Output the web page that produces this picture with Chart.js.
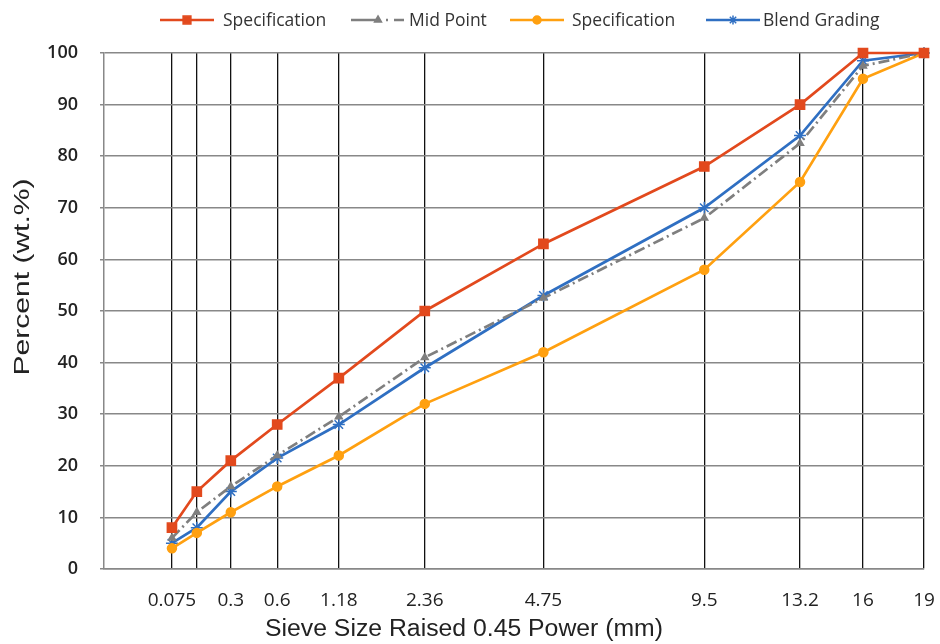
<!DOCTYPE html>
<html>
<head>
<meta charset="utf-8">
<script src="https://cdn.jsdelivr.net/npm/chart.js@4"></script>
<style>
  html, body { margin: 0; padding: 0; background: #fff; }
  #wrap { width: 940px; height: 644px; position: relative; }
</style>
</head>
<body>
<div id="wrap"><canvas id="gradChart"></canvas></div>
<script>
// sieve sizes (mm), plotted at size^0.45
const sieves = [0.075, 0.15, 0.3, 0.6, 1.18, 2.36, 4.75, 9.5, 13.2, 16, 19];
const sieveLabels = ['0.075', '', '0.3', '0.6', '1.18', '2.36', '4.75', '9.5', '13.2', '16', '19'];

const specUpper = [8, 15, 21, 28, 37, 50, 63, 78, 90, 100, 100];
const midPoint  = [6, 11, 16, 22, 29.5, 41, 52.5, 68, 82.5, 97.5, 100];
const specLower = [4, 7, 11, 16, 22, 32, 42, 58, 75, 95, 100];
const blend     = [5, 8, 15, 21.5, 28, 39, 53, 70, 84, 98.5, 100];

const yTicks = [0, 10, 20, 30, 40, 50, 60, 70, 80, 90, 100];

const POW = 0.45;
const xs = sieves.map(s => Math.pow(s, POW));
const pts = vals => vals.map((v, i) => ({ x: xs[i], y: v }));

const RED = '#E2491D', GRAY = '#7F7F7F', ORANGE = '#FFA010', BLUE = '#2F6FC2';
const MID_DASH = [11, 4, 2, 4];

function series(label, vals, color, pointStyle, extra){
  return Object.assign({
    label, data: pts(vals),
    borderColor: color, backgroundColor: color,
    pointBorderColor: color, pointBackgroundColor: color,
    borderWidth: 2.7, pointStyle, pointRadius: 4.5, pointBorderWidth: 1.5,
    tension: 0, clip: false
  }, extra || {});
}

// text squeezed/stretched to the width it has in the original
function stretchText(ctx, text, cx, cy, len, font, rot){
  ctx.save();
  ctx.font = font;
  const w = ctx.measureText(text).width;
  ctx.translate(cx, cy);
  if(rot) ctx.rotate(rot);
  ctx.scale(len / w, 1);
  ctx.textAlign = 'center';
  ctx.textBaseline = 'middle';
  ctx.fillText(text, 0, 0);
  ctx.restore();
}

// legend (line + marker) and axis titles
const extras = {
  id: 'extras',
  afterDraw(chart){
    const ctx = chart.ctx;
    const items = [
      { x: 160, tx: 223, ds: 0, r: 5.5 },
      { x: 351, tx: 409, ds: 1, r: 4, dash: [29, 6, 2, 6, 10, 200] },
      { x: 510, tx: 572, ds: 2, r: 4 },
      { x: 706, tx: 763, ds: 3, r: 4.5 }
    ];
    const y = 20;
    ctx.save();
    items.forEach(it => {
      const ds = chart.data.datasets[it.ds];
      ctx.strokeStyle = ds.borderColor;
      ctx.lineWidth = 2.5;
      ctx.setLineDash(it.dash || []);
      ctx.beginPath();
      ctx.moveTo(it.x, y);
      ctx.lineTo(it.x + (it.dash ? 55 : 54), y);
      ctx.stroke();
      ctx.setLineDash([]);
      ctx.fillStyle = ds.backgroundColor;
      ctx.lineWidth = 1.5;
      Chart.helpers.drawPoint(ctx, { pointStyle: ds.pointStyle, radius: it.r, borderWidth: 1.5 }, it.x + 27, y);
      ctx.fillStyle = '#333';
      ctx.font = '17.5px "Open Sans"';
      ctx.textBaseline = 'middle';
      ctx.fillText(ds.label, it.tx, y + 1);
    });
    ctx.fillStyle = '#222';
    stretchText(ctx, 'Sieve Size Raised 0.45 Power (mm)', 464, 630, 398, '23px "Liberation Sans"');
    stretchText(ctx, 'Percent (wt.%)', 23, 277, 197, '22px "Liberation Sans"', -Math.PI / 2);
    ctx.restore();
  }
};

new Chart(document.getElementById('gradChart'), {
  type: 'line',
  data: {
    datasets: [
      series('Specification', specUpper, RED, 'rect', { pointRadius: 6.5 }),
      series('Mid Point', midPoint, GRAY, 'triangle', { borderDash: MID_DASH, pointRadius: 4 }),
      series('Specification', specLower, ORANGE, 'circle', { pointRadius: 4.5 }),
      series('Blend Grading', blend, BLUE, 'star', { pointRadius: 6 })
    ]
  },
  plugins: [extras],
  options: {
    responsive: true,
    maintainAspectRatio: false,
    animation: false,
    layout: { padding: { top: 53, right: 16, left: 0, bottom: 0 } },
    plugins: { legend: { display: false }, tooltip: { enabled: false } },
    scales: {
      x: {
        type: 'linear',
        min: 0,
        max: Math.pow(19, POW),
        afterBuildTicks: scale => { scale.ticks = xs.map(v => ({ value: v })); },
        afterFit: scale => { scale.height = 75; scale.paddingLeft = 0; scale.paddingRight = 0; },
        ticks: {
          autoSkip: false,
          maxRotation: 0,
          padding: 20,
          color: '#222',
          font: { family: 'Open Sans', size: 19 },
          callback: (v, i) => sieveLabels[i]
        },
        grid: { color: '#111', lineWidth: 1.3, drawTicks: false },
        border: { color: '#888', width: 1.5 }
      },
      y: {
        min: 0, max: 100,
        afterBuildTicks: scale => { scale.ticks = yTicks.map(v => ({ value: v })); },
        afterFit: scale => { scale.width = 104; },
        ticks: {
          color: '#222',
          padding: 22,
          font: { family: 'Open Sans', size: 18, weight: '600' }
        },
        grid: { color: '#888', lineWidth: 1.5, tickLength: 4 },
        border: { color: '#888', width: 1.5 }
      }
    }
  }
});
</script>
</body>
</html>
